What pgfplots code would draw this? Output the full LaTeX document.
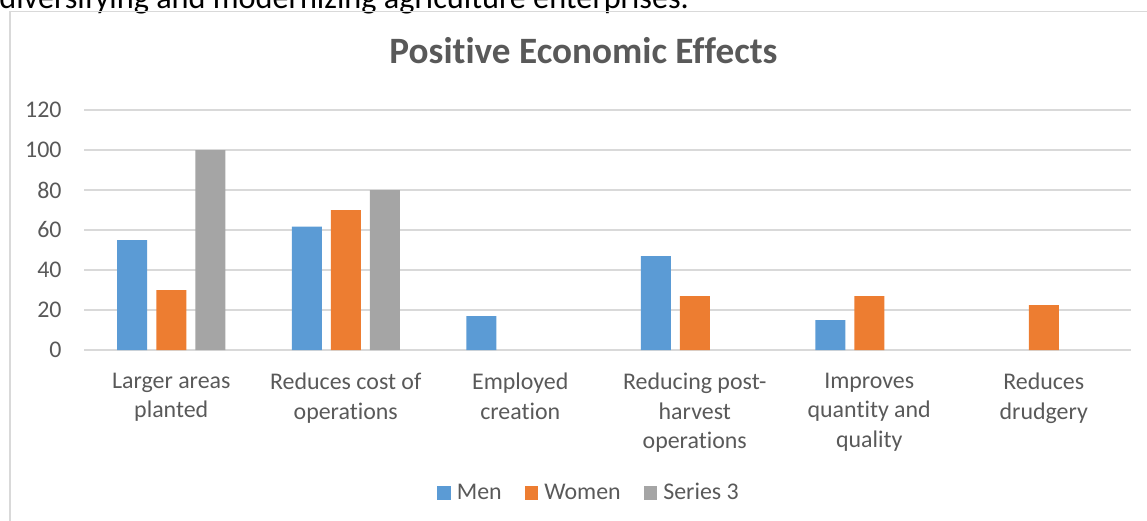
\documentclass[border=0pt]{standalone}
\usepackage{fontspec}
\setmainfont{Carlito}[Ligatures={NoCommon}]
\usepackage{pgfplots}
\pgfplotsset{compat=1.18}

\definecolor{menblue}{HTML}{5B9BD5}
\definecolor{womenorange}{HTML}{ED7D31}
\definecolor{seriesgray}{HTML}{A5A5A5}
\definecolor{labelgray}{HTML}{595959}
\definecolor{gridgray}{HTML}{D9D9D9}

\begin{document}
\begin{tikzpicture}
  % page area: 1 unit = 0.5bp
  \useasboundingbox (0,0) rectangle (573.5bp,-260.5bp);

  % line of the surrounding document text, cut by the page edge
  \node[anchor=base west, inner sep=0pt, font=\fontsize{16.2}{19}\selectfont]
    at (-0.5bp,-4bp) {diversifying and modernizing agriculture enterprises.};

  % chart frame
  \draw[gridgray, line width=0.6bp] (5bp,-5.75bp) rectangle (578.5bp,-270bp);

  % chart title
  \node[anchor=base, inner sep=0pt, text=labelgray,
        font=\fontsize{18.67}{22}\selectfont\bfseries]
    at (291.75bp,-31.5bp) {Positive Economic Effects};

  \begin{axis}[
    at={(42bp,-175bp)}, anchor=south west,
    scale only axis,
    width=523.5bp, height=120bp,
    xmin=-0.5, xmax=5.5,
    ymin=0, ymax=120,
    ytick={0,20,...,120},
    xtick={0,1,2,3,4,5},
    xticklabels={
      {Larger areas\\planted},
      {Reduces cost of\\operations},
      {Employed\\creation},
      {Reducing post-\\harvest\\operations},
      {Improves\\quantity and\\quality},
      {Reduces\\drudgery}},
    axis line style={draw=none},
    major tick length=0pt,
    tick style={draw=none},
    ymajorgrids,
    grid style={gridgray, line width=0.85bp},
    /pgf/number format/assume math mode=true,
    yticklabel style={anchor=east, inner sep=0pt, xshift=-11bp,
      text=labelgray, font=\fontsize{12}{14.75}\selectfont},
    xticklabel style={anchor=north, inner sep=0pt, yshift=-11.35bp,
      align=center, text=labelgray, font=\fontsize{12}{14.75}\selectfont,
      execute at begin node={\rule{0pt}{9.5bp}}},
    ybar, bar width=15bp, ybar=4.5bp,
    legend columns=3,
    legend style={
      at={(0.4814,-0.5958)}, anchor=center,
      draw=none, fill=none, inner sep=0pt,
      font=\fontsize{12}{14.75}\selectfont, text=labelgray,
      nodes={inner sep=0pt},
      /tikz/every odd column/.style={column sep=3bp},
      /tikz/every even column/.style={column sep=11.5bp}},
    legend image code/.code={
      \fill[#1] (0bp,-3.4bp) rectangle (6.8bp,3.4bp);},
  ]
    \addplot[fill=menblue, draw=none]
      coordinates {(0,55) (1,61.7) (2,17) (3,47) (4,15)};
    \addplot[fill=womenorange, draw=none]
      coordinates {(0,30) (1,70) (3,27) (4,27) (5,22.5)};
    \addplot[fill=seriesgray, draw=none]
      coordinates {(0,100) (1,80)};
    \legend{Men, Women, Series 3}
  \end{axis}
\end{tikzpicture}
\end{document}
